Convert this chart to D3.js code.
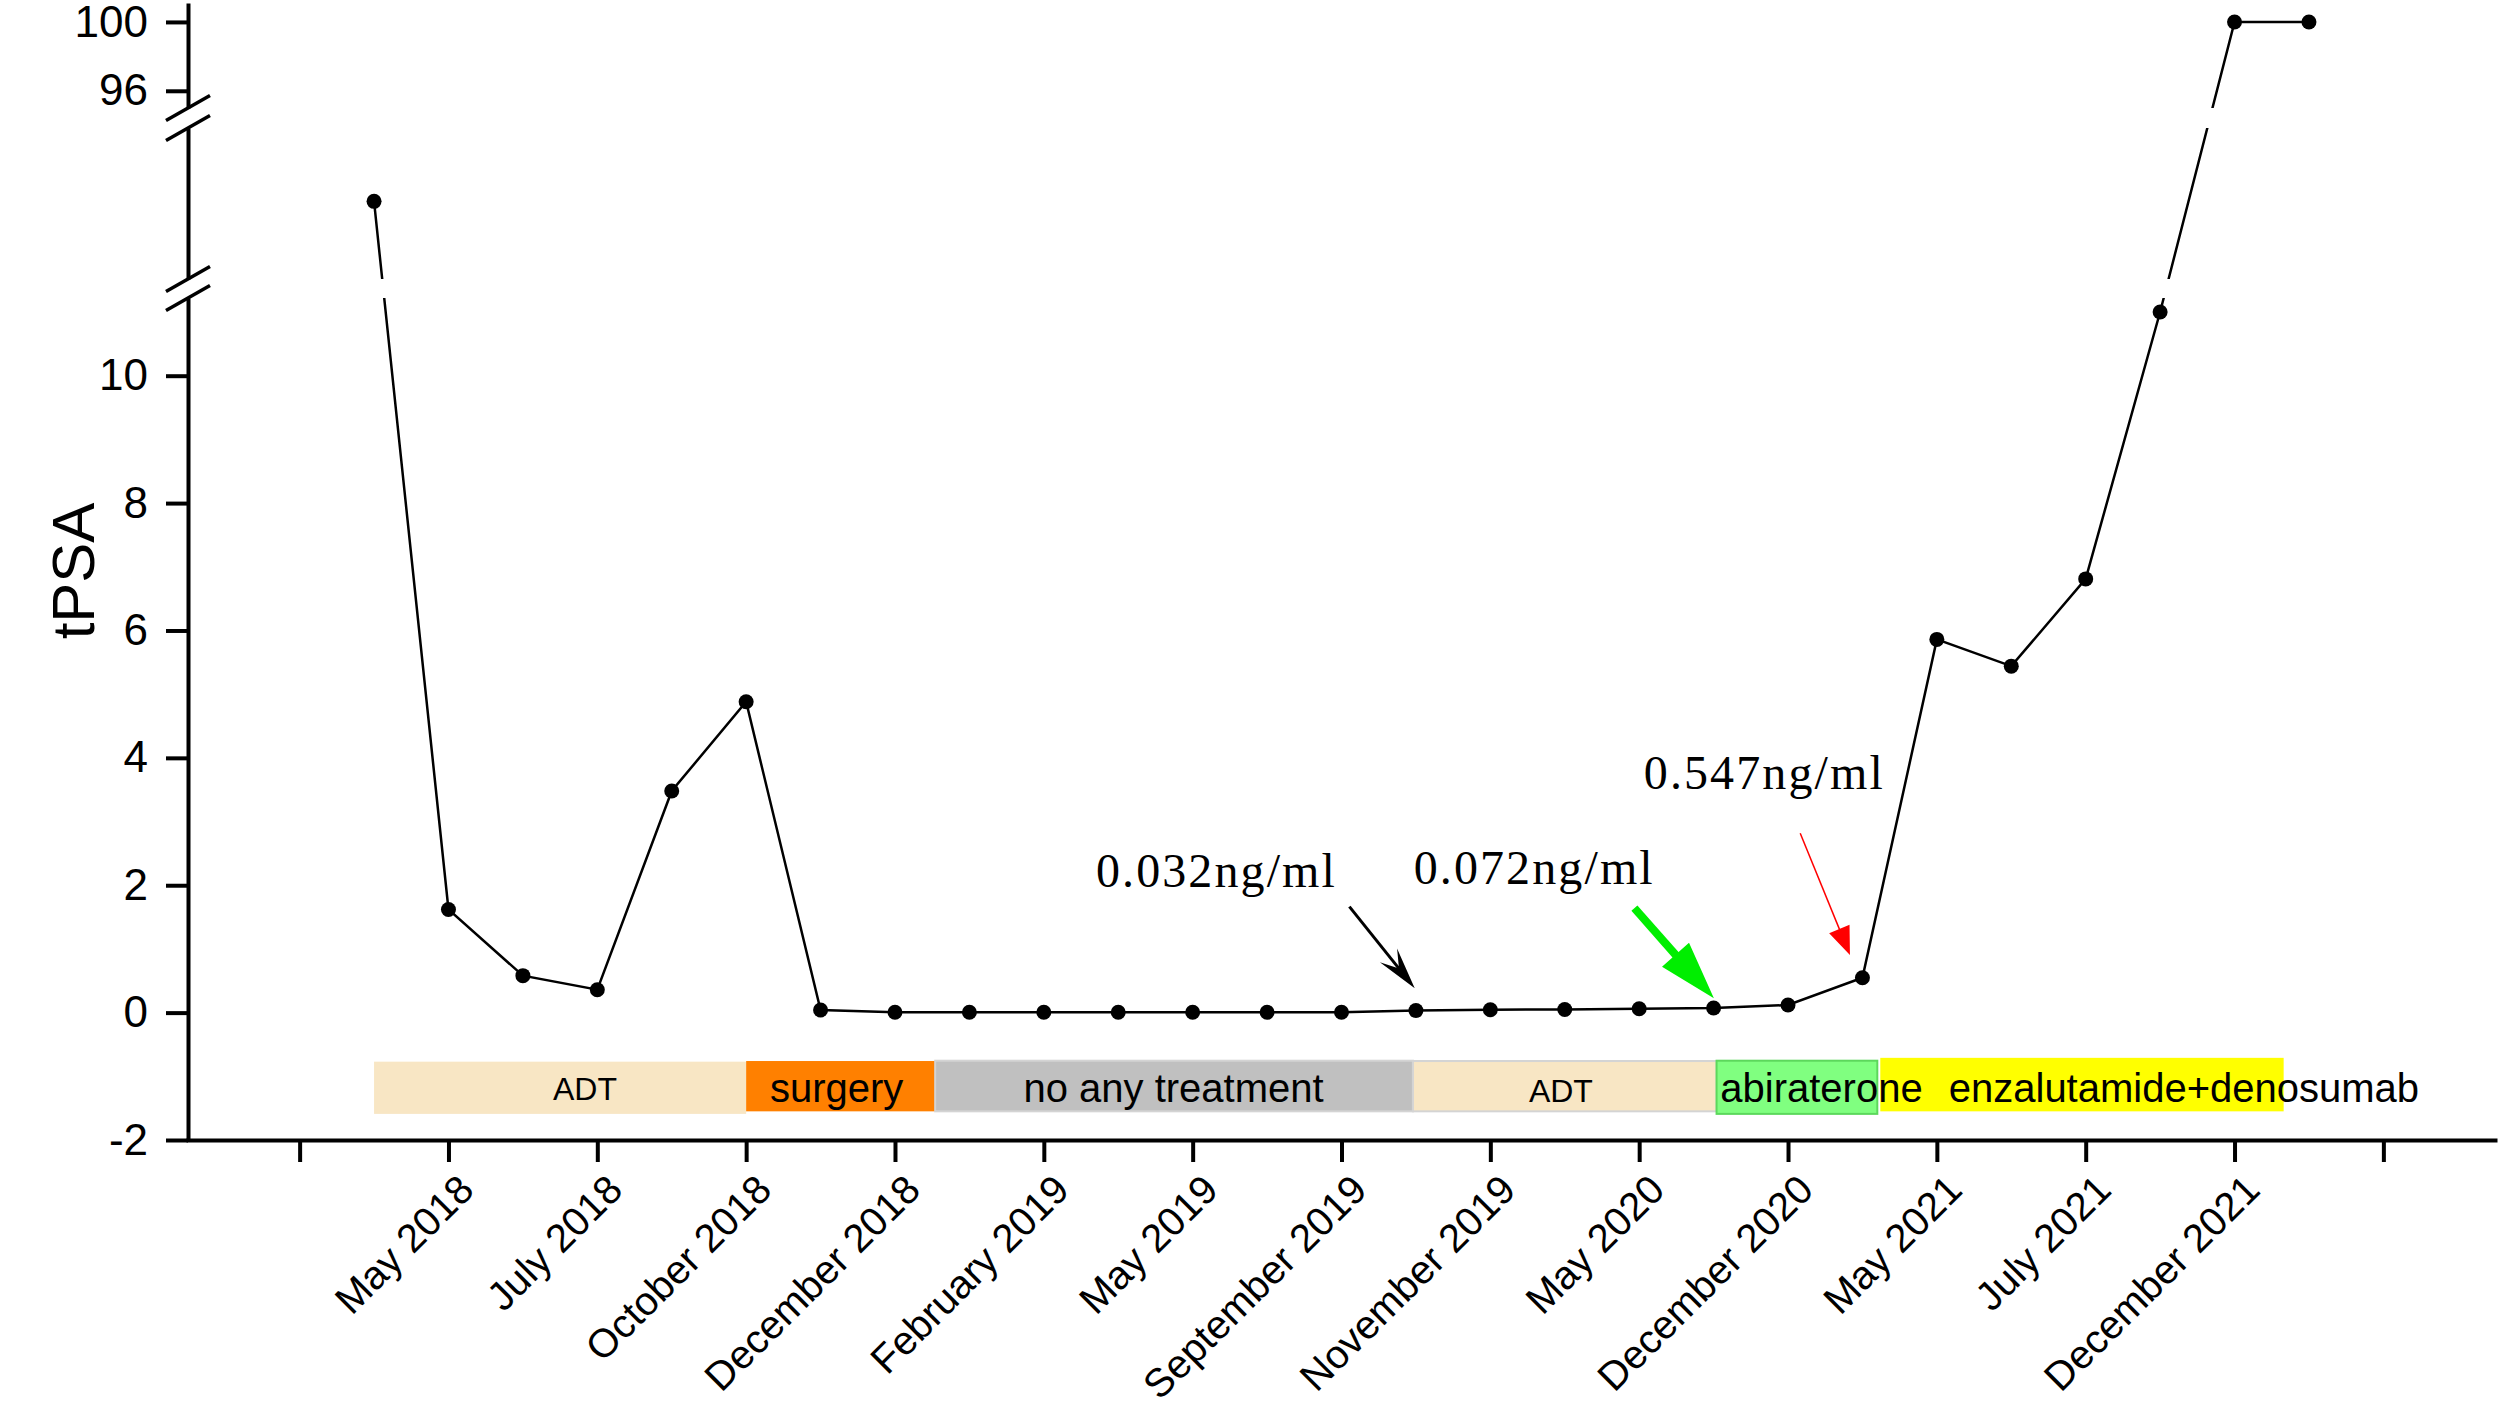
<!DOCTYPE html>
<html><head><meta charset="utf-8">
<script src="https://cdn.jsdelivr.net/npm/d3@7"></script>
<style>body{margin:0;background:#fff}</style>
</head><body>
<svg id="chart" width="2500" height="1403" xmlns="http://www.w3.org/2000/svg"></svg>
<script>
// ---------- data ----------
const tickLabels = ["", "May 2018", "July 2018", "October 2018", "December 2018", "February 2019",
  "May 2019", "September 2019", "November 2019", "May 2020", "December 2020", "May 2021",
  "July 2021", "December 2021", ""];
const pointPositions = [0.5, 1, 1.5, 2, 2.5, 3, 3.5, 4, 4.5, 5, 5.5, 6, 6.5, 7, 7.5, 8, 8.5, 9,
  9.5, 10, 10.5, 11, 11.5, 12, 12.5, 13, 13.5];
const psaValues = [50, 1.62, 0.58, 0.36, 3.48, 4.88, 0.04, 0.005, 0.005, 0.005, 0.005, 0.005,
  0.005, 0.005, 0.032, 0.045, 0.05, 0.06, 0.072, 0.12, 0.547, 5.86, 5.44, 6.81, 11.0, 100, 100];
const yTicksLow = [-2, 0, 2, 4, 6, 8, 10];
const yTicksTop = [96, 100];
const treatNames = ["ADT", "surgery", "no any treatment", "ADT", "abiraterone", "enzalutamide+denosumab"];
const treatStart = [0.5, 3.0, 4.27, 7.48, 9.52, 10.62];
const treatEnd = [3.0, 4.27, 7.48, 9.52, 10.60, 13.33];
const treatTop = [-0.77, -0.76, -0.755, -0.76, -0.755, -0.71];
const treatBottom = [-1.59, -1.55, -1.55, -1.55, -1.59, -1.55];
const noteTexts = ["0.032ng/ml", "0.072ng/ml", "0.547ng/ml"];

// ---------- layout / style ----------
const treatColors = ["#F8E6C4", "#FF8000", "#C0C0C0", "#F8E6C4", "#80FF80", "#FFFF00"];
const treatStroke = ["none", "none", "#d4d4d4", "#d4d4d4", "#5cd85c", "none"];
const treatLabelPos = [{p:1.917,v:-1.37,a:"middle",s:32},{p:3.16,v:-1.40,a:"start",s:40},
  {p:4.863,v:-1.40,a:"start",s:40},{p:8.474,v:-1.40,a:"middle",s:32},
  {p:9.545,v:-1.41,a:"start",s:40},{p:11.08,v:-1.40,a:"start",s:40}];
const notePos = [{p:5.35,v:1.97},{p:7.485,v:2.02},{p:9.031,v:3.51}];
const arrowDefs = [
  {p1:7.053,v1:1.665,p2:7.492,v2:0.383,color:"#000",w:3,L:42,H:11,notch:0.4},
  {p1:8.968,v1:1.64,p2:9.502,v2:0.226,color:"#00EE00",w:8,L:58,H:18,notch:0},
  {p1:10.082,v1:2.816,p2:10.416,v2:0.906,color:"#FF0000",w:1.5,L:28,H:11,notch:0}
];

const W = 2500, H = 1403;
const svg = d3.select("#chart");
const sans = "'Liberation Sans', Arial, sans-serif";

const x = d3.scaleLinear().domain([-0.75, 14.75]).range([188, 2495]);
const yLow = d3.scaleLinear().domain([-2, 11.22]).range([1140, 298]);
const yMid = d3.scaleLinear().domain([14, 84]).range([279, 128]);
const yTop = d3.scaleLinear().domain([95, 101.1]).range([108, 3]);
function Y(v) { return v <= 11.22 ? yLow(v) : (v <= 84 ? yMid(v) : yTop(v)); }

// treatment bars
const bars = svg.append("g");
treatNames.forEach((n, i) => {
  bars.append("rect")
    .attr("x", x(treatStart[i])).attr("y", yLow(treatTop[i]))
    .attr("width", x(treatEnd[i]) - x(treatStart[i]))
    .attr("height", yLow(treatBottom[i]) - yLow(treatTop[i]))
    .attr("fill", treatColors[i])
    .attr("stroke", treatStroke[i]).attr("stroke-width", 2);
});
treatNames.forEach((n, i) => {
  const lp = treatLabelPos[i];
  bars.append("text").attr("x", x(lp.p)).attr("y", yLow(lp.v))
    .attr("text-anchor", lp.a).style("font-family", sans).style("font-size", lp.s + "px")
    .attr("fill", "#000").text(n);
});

// clip for axis breaks
const defs = svg.append("defs");
const cp = defs.append("clipPath").attr("id", "brk");
[[0, 108], [128, 279], [298, H]].forEach(r => {
  cp.append("rect").attr("x", 0).attr("y", r[0]).attr("width", W).attr("height", r[1] - r[0]);
});

// line
const pts = psaValues.map((v, i) => ({p: pointPositions[i], v}));
svg.append("path").datum(pts)
  .attr("clip-path", "url(#brk)")
  .attr("d", d3.line().x(d => x(d.p)).y(d => Y(d.v)))
  .attr("fill", "none").attr("stroke", "#000").attr("stroke-width", 2.5);
svg.append("g").selectAll("circle").data(pts).join("circle")
  .attr("cx", d => x(d.p)).attr("cy", d => Y(d.v)).attr("r", 7.5).attr("fill", "#000");

// x axis
const gx = svg.append("g").attr("transform", "translate(0,1140)")
  .call(d3.axisBottom(x).tickValues(d3.range(15)).tickFormat((d, i) => tickLabels[i])
    .tickSize(22).tickSizeOuter(0));
gx.select(".domain").attr("stroke-width", 4).attr("stroke-linecap", "square");
gx.selectAll(".tick line").attr("stroke-width", 4);
gx.selectAll(".tick text").attr("x", 0).attr("y", 0).attr("dy", null)
  .attr("transform", "translate(27,52) rotate(-45)").attr("text-anchor", "end")
  .style("font-family", sans).style("font-size", "40px").attr("fill", "#000");

// y axes (broken)
function yAxis(scale, ticks) {
  const g = svg.append("g").attr("transform", "translate(188,0)")
    .call(d3.axisLeft(scale).tickValues(ticks).tickFormat(d => String(d))
      .tickSize(22).tickPadding(18).tickSizeOuter(0));
  g.select(".domain").attr("stroke-width", 4);
  g.selectAll(".tick line").attr("stroke-width", 4);
  g.selectAll(".tick text").style("font-family", sans).style("font-size", "44px").attr("fill", "#000");
  return g;
}
yAxis(yLow, yTicksLow);
yAxis(yMid, []);
yAxis(yTop, yTicksTop);
[108, 128, 279, 298].forEach(e => {
  svg.append("line").attr("x1", 166).attr("y1", e + 12.5).attr("x2", 210).attr("y2", e - 12.5)
    .attr("stroke", "#000").attr("stroke-width", 3.5);
});

// y title
svg.append("text").attr("transform", "translate(94,571) rotate(-90)")
  .attr("text-anchor", "middle").style("font-family", sans).style("font-size", "60px")
  .attr("fill", "#000").text("tPSA");

// notes
noteTexts.forEach((t, i) => {
  svg.append("text").attr("x", x(notePos[i].p)).attr("y", yLow(notePos[i].v))
    .attr("textLength", 239).attr("lengthAdjust", "spacing")
    .style("font-family", "'Liberation Serif', 'Times New Roman', serif").style("font-size", "48px")
    .attr("fill", "#000").text(t);
});

// arrows
arrowDefs.forEach(a => {
  const x1 = x(a.p1), y1 = yLow(a.v1), x2 = x(a.p2), y2 = yLow(a.v2);
  const dx = x2 - x1, dy = y2 - y1, len = Math.hypot(dx, dy);
  const ux = dx / len, uy = dy / len, nx = -uy, ny = ux;
  const bx = x2 - ux * a.L, by = y2 - uy * a.L;
  const mx = x2 - ux * a.L * (1 - a.notch), my = y2 - uy * a.L * (1 - a.notch);
  svg.append("line").attr("x1", x1).attr("y1", y1).attr("x2", mx + ux * 2).attr("y2", my + uy * 2)
    .attr("stroke", a.color).attr("stroke-width", a.w);
  svg.append("path")
    .attr("d", `M${x2},${y2}L${bx + nx * a.H},${by + ny * a.H}L${mx},${my}L${bx - nx * a.H},${by - ny * a.H}Z`)
    .attr("fill", a.color);
});
</script>
</body></html>
